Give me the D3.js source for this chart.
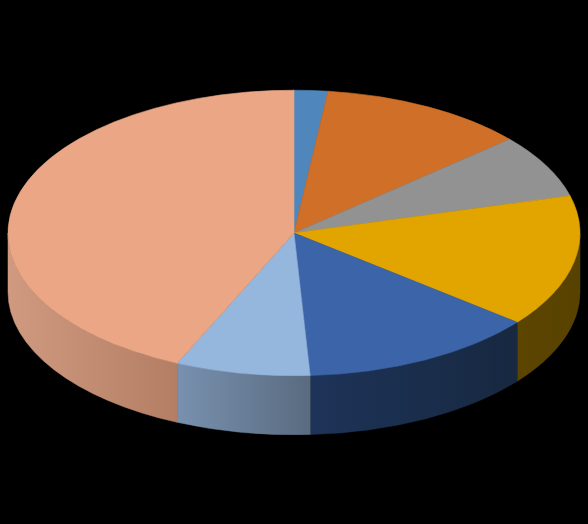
<!DOCTYPE html>
<html>
<head>
<meta charset="utf-8">
<script src="https://cdn.jsdelivr.net/npm/d3@7"></script>
<style>html,body{margin:0;padding:0;background:#000;overflow:hidden}svg{display:block}</style>
</head>
<body>
<svg id="chart" width="588" height="524"></svg>
<script>
const categories = ["A","B","C","D","E","F","G"];
const values = [1.9, 11.7, 7.2, 14.95, 13.35, 7.6, 43.3];
const topColors = ["#4f87bd","#d06f28","#929292","#e2a500","#3b64a9","#95b6dd","#eaa685"];
const sideStart = ["#2d4d6c","#7a4118","#555","#5c4500","#1d3358","#7891af","#d09a80"];
const sideEnd   = ["#2d4d6c","#7a4118","#555","#584200","#172840","#5a6b80","#b47e65"];

const W = 588, H = 524, cx = 294, cy = 233, rx = 286, ry = 142.8, depth = 59;
const yRatio = ry / rx;

const svg = d3.select("#chart").attr("viewBox", [0,0,W,H]);
svg.append("rect").attr("width",W).attr("height",H).attr("fill","#000");
const defs = svg.append("defs");

const pie = d3.pie().sort(null).value(d => d.v);
const arcs = pie(categories.map((c,i) => ({c, v: values[i], i})));
const arcGen = d3.arc().innerRadius(0).outerRadius(rx);

const g = svg.append("g").attr("transform", `translate(${cx},${cy}) scale(1,${yRatio})`);
const d3pi = Math.PI, off = -d3pi/2;
const dScaled = depth / yRatio;

function sidePath(a0, a1) {
  const p = d3.path();
  const s = a0 + off, e = a1 + off;
  p.moveTo(rx*Math.cos(s), rx*Math.sin(s));
  p.arc(0, 0, rx, s, e, false);
  p.lineTo(rx*Math.cos(e), rx*Math.sin(e) + dScaled);
  p.arc(0, dScaled, rx, e, s, true);
  p.closePath();
  return p.toString();
}
const front = arcs.map(a => ({...a,
  a0: Math.max(a.startAngle, d3pi/2),
  a1: Math.min(a.endAngle, 3*d3pi/2)})).filter(a => a.a1 > a.a0);

front.forEach(a => {
  const i = a.data.i;
  const x0 = rx*Math.sin(a.a0), x1 = rx*Math.sin(a.a1);
  const lg = defs.append("linearGradient").attr("id","side"+i)
    .attr("gradientUnits","userSpaceOnUse")
    .attr("x1", Math.min(x0,x1)).attr("x2", Math.max(x0,x1)).attr("y1",0).attr("y2",0);
  lg.append("stop").attr("offset",0).attr("stop-color",sideStart[i]);
  lg.append("stop").attr("offset",1).attr("stop-color",sideEnd[i]);
});
g.selectAll("path.side").data(front).join("path").attr("class","side")
  .attr("d", a => sidePath(a.a0, a.a1))
  .attr("fill", a => `url(#side${a.data.i})`)
  .attr("stroke", a => `url(#side${a.data.i})`)
  .attr("stroke-width", 0.5)
  .attr("vector-effect", "non-scaling-stroke");
g.selectAll("path.top").data(arcs).join("path").attr("class","top")
  .attr("d", arcGen)
  .attr("fill", a => topColors[a.data.i])
  .attr("stroke", a => topColors[a.data.i])
  .attr("stroke-width", 0.6)
  .attr("vector-effect", "non-scaling-stroke");
</script>
</body>
</html>
